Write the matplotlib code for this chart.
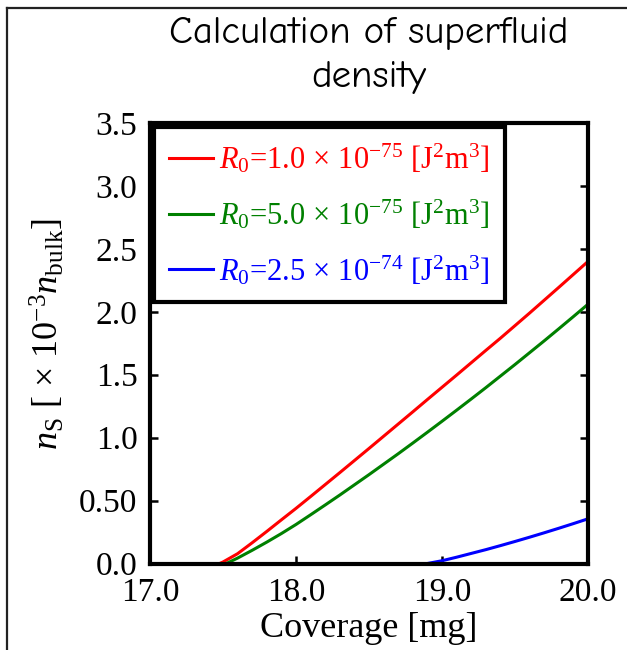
import matplotlib
matplotlib.use("Agg")
import matplotlib.pyplot as plt
from matplotlib.lines import Line2D

plt.rcParams['mathtext.fontset'] = 'custom'
plt.rcParams['mathtext.rm'] = 'Liberation Serif'
plt.rcParams['mathtext.it'] = 'Liberation Serif:italic'
plt.rcParams['mathtext.bf'] = 'Liberation Serif:bold'
plt.rcParams['font.family'] = ['Liberation Serif', 'DejaVu Serif']

# ---- data ----
red_x = [17.477, 17.5, 17.6, 17.7, 17.8, 17.9, 18.0, 18.1, 18.2, 18.3, 18.4, 18.5, 18.6,
         18.7, 18.8, 18.9, 19.0, 19.1, 19.2, 19.3, 19.4, 19.5, 19.6, 19.7, 19.8, 19.9, 20.0]
red_y = [0.0, 0.012, 0.078, 0.165, 0.255, 0.347, 0.438, 0.532, 0.627, 0.722, 0.818, 0.914, 1.011,
         1.108, 1.205, 1.303, 1.40, 1.497, 1.595, 1.693, 1.79, 1.89, 1.99, 2.092, 2.194, 2.297, 2.40]
green_x = [17.523, 17.6, 17.7, 17.8, 17.9, 18.0, 18.1, 18.2, 18.3, 18.4, 18.5, 18.6, 18.7,
           18.8, 18.9, 19.0, 19.1, 19.2, 19.3, 19.4, 19.5, 19.6, 19.7, 19.8, 19.9, 20.0]
green_y = [0.0, 0.043, 0.105, 0.17, 0.238, 0.31, 0.387, 0.465, 0.544, 0.625, 0.706, 0.789, 0.872,
           0.957, 1.043, 1.13, 1.218, 1.307, 1.397, 1.489, 1.581, 1.675, 1.769, 1.865, 1.962, 2.06]
blue_x = [18.9, 19.0, 19.1, 19.2, 19.3, 19.4, 19.5, 19.6, 19.7, 19.8, 19.9, 20.0]
blue_y = [0.0, 0.022, 0.05, 0.08, 0.11, 0.142, 0.175, 0.209, 0.244, 0.28, 0.317, 0.355]

labels = [r'$R_0$=1.0$\,\times\,$10$^{-75}$ [J$^2$m$^3$]',
          r'$R_0$=5.0$\,\times\,$10$^{-75}$ [J$^2$m$^3$]',
          r'$R_0$=2.5$\,\times\,$10$^{-74}$ [J$^2$m$^3$]']
xticks = [17.0, 18.0, 19.0, 20.0]
xticklabels = ['17.0', '18.0', '19.0', '20.0']
yticks = [0.0, 0.5, 1.0, 1.5, 2.0, 2.5, 3.0, 3.5]
yticklabels = ['0.0', '0.50', '1.0', '1.5', '2.0', '2.5', '3.0', '3.5']

fig = plt.figure(figsize=(6.27, 6.5), dpi=100)
ax = fig.add_axes([150/627, 1-563.5/650, 438/627, 440.5/650])

lw = 2.2
ax.plot(red_x, red_y, color='r', lw=lw, label=labels[0])
ax.plot(green_x, green_y, color='g', lw=lw, label=labels[1])
ax.plot(blue_x, blue_y, color='b', lw=lw, label=labels[2])

ax.set_xlim(17.0, 20.0)
ax.set_ylim(0.0, 3.5)
ax.set_xticks(xticks)
ax.set_xticklabels(xticklabels)
ax.set_yticks(yticks)
ax.set_yticklabels(yticklabels)
ax.tick_params(direction='in', length=6, width=1.8, top=True, right=True,
               labelsize=24)
ax.tick_params(axis='x', pad=10)
ax.tick_params(axis='y', pad=9)
for s in ax.spines.values():
    s.set_linewidth(3)

ax.set_xlabel('Coverage [mg]', fontsize=26, labelpad=3)
ax.set_ylabel(r'$n_{\rm S}$ [ $\times$ 10$^{-3}$$n_{\rm bulk}$]', fontsize=26)
ax.yaxis.set_label_coords(-0.19, 0.52)

ax.set_title('Calculation of superfluid\ndensity', fontsize=28,
             family=['Comic Neue', 'Open Sans', 'DejaVu Sans'], linespacing=1.4, pad=26)

leg = ax.legend(loc='upper left', fontsize=22, frameon=True, fancybox=False,
                framealpha=1.0, handlelength=1.45, handletextpad=0.2, borderaxespad=0.12,
                borderpad=0.5, labelspacing=0.72, labelcolor='linecolor')
leg.get_frame().set_edgecolor('black')
leg.get_frame().set_linewidth(3)

# figure border lines (top and left)
fig.add_artist(Line2D([7/627, 1.0], [1-8/650, 1-8/650], color='#222222', lw=1.6,
                      transform=fig.transFigure))
fig.add_artist(Line2D([7/627, 7/627], [0.0, 1-8/650], color='#222222', lw=1.6,
                      transform=fig.transFigure))

fig.savefig('out.png', dpi=100)
